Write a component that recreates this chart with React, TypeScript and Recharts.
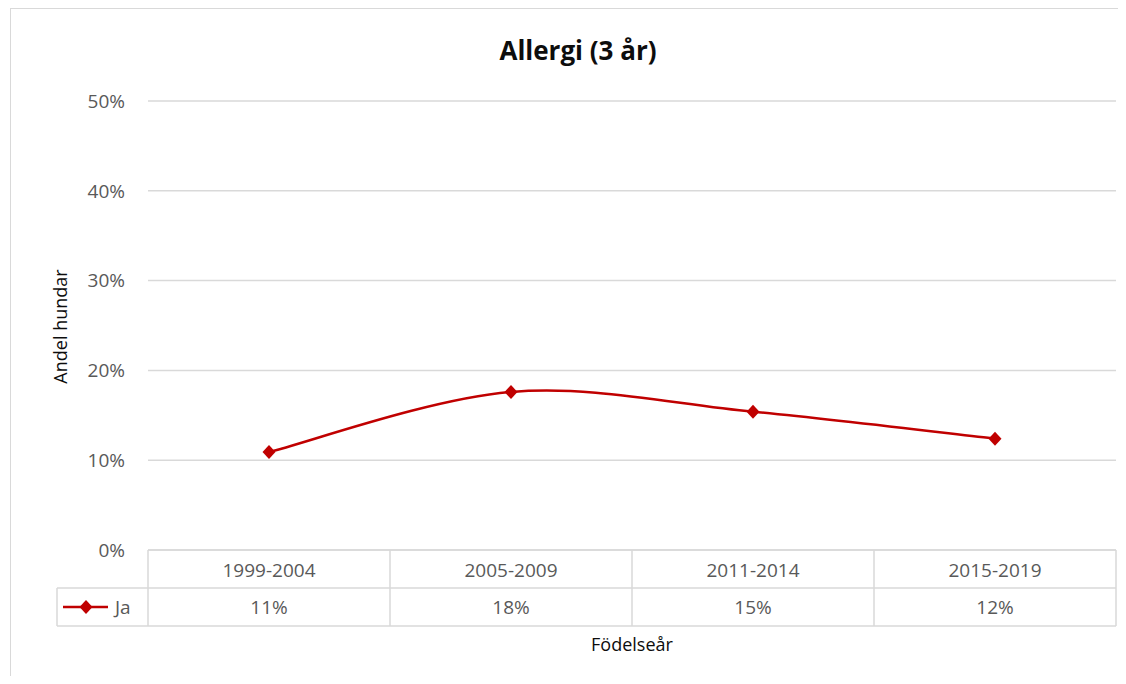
import React from 'react';
import { LineChart, Line, XAxis, YAxis, CartesianGrid } from 'recharts';

// ---- data ----
const categories = ['1999-2004', '2005-2009', '2011-2014', '2015-2019'];
const jaValues = [0.109, 0.176, 0.154, 0.124];
const yTicks = [0, 0.1, 0.2, 0.3, 0.4, 0.5];
const seriesName = 'Ja';
const chartTitle = 'Allergi (3 år)';
const yAxisTitle = 'Andel hundar';
const xAxisTitle = 'Födelseår';

const data = categories.map((c, i) => ({ cat: c, ja: jaValues[i] }));

// ---- layout constants ----
const W = 1118;
const H = 668;
const PLOT_TOP = 93;
const PLOT_LEFT = 140;
const RIGHT = 10;
const XAXIS_H = 126;
const PLOT_BOTTOM = H - XAXIS_H;
const ROW_H = 38;
const FONT = '"Open Sans", sans-serif';
const GRID = '#d9d9d9';
const RED = '#C00000';
const TEXT_GRAY = '#595959';
const TICK_FS = 19;

const pct = (v: number) => `${Math.round(v * 100)}%`;

// Excel-like smoothed line (Catmull-Rom style bezier)
const excelSmooth: any = (context: any) => {
  let pts: number[][] = [];
  return {
    areaStart() {},
    areaEnd() {},
    lineStart() {
      pts = [];
    },
    point(x: number, y: number) {
      pts.push([+x, +y]);
    },
    lineEnd() {
      const n = pts.length;
      if (!n) return;
      context.moveTo(pts[0][0], pts[0][1]);
      for (let i = 0; i < n - 1; i++) {
        const p0 = pts[i - 1] || pts[i];
        const p1 = pts[i];
        const p2 = pts[i + 1];
        const p3 = pts[i + 2] || pts[i + 1];
        context.bezierCurveTo(
          p1[0] + (p2[0] - p0[0]) / 6,
          p1[1] + (p2[1] - p0[1]) / 6,
          p2[0] - (p3[0] - p1[0]) / 6,
          p2[1] - (p3[1] - p1[1]) / 6,
          p2[0],
          p2[1]
        );
      }
    },
  };
};

const Diamond = (props: any) => {
  const { cx, cy } = props;
  if (cx == null || cy == null) return null;
  return <path d={`M${cx},${cy - 7}L${cx + 6.5},${cy}L${cx},${cy + 7}L${cx - 6.5},${cy}Z`} fill={RED} />;
};

const TableTick = (props: any) => {
  const { x, index, payload } = props;
  const bw = (W - PLOT_LEFT - RIGHT) / categories.length;
  const left = x - bw / 2;
  const right = x + bw / 2;
  const top = PLOT_BOTTOM;
  const mid = top + ROW_H;
  const bot = top + 2 * ROW_H;
  const sw = 1.5;
  const legLeft = 49;
  const legY = mid + ROW_H / 2;
  return (
    <g>
      <line x1={left} y1={top} x2={right} y2={top} stroke={GRID} strokeWidth={sw} />
      <line x1={left} y1={mid} x2={right} y2={mid} stroke={GRID} strokeWidth={sw} />
      <line x1={left} y1={bot} x2={right} y2={bot} stroke={GRID} strokeWidth={sw} />
      <line x1={left} y1={top} x2={left} y2={bot} stroke={GRID} strokeWidth={sw} />
      {index === categories.length - 1 && (
        <line x1={right} y1={top} x2={right} y2={bot} stroke={GRID} strokeWidth={sw} />
      )}
      <text x={x} y={top + ROW_H / 2 + 1} textAnchor="middle" dominantBaseline="central" fill={TEXT_GRAY} fontSize={TICK_FS} fontFamily={FONT}>
        {payload.value}
      </text>
      <text x={x} y={mid + ROW_H / 2} textAnchor="middle" dominantBaseline="central" fill={TEXT_GRAY} fontSize={TICK_FS} fontFamily={FONT}>
        {pct(jaValues[index])}
      </text>
      {index === 0 && (
        <g>
          <line x1={legLeft} y1={mid} x2={left} y2={mid} stroke={GRID} strokeWidth={sw} />
          <line x1={legLeft} y1={bot} x2={left} y2={bot} stroke={GRID} strokeWidth={sw} />
          <line x1={legLeft} y1={mid} x2={legLeft} y2={bot} stroke={GRID} strokeWidth={sw} />
          <line x1={55} y1={legY} x2={100} y2={legY} stroke={RED} strokeWidth={2.5} />
          <Diamond cx={78} cy={legY} />
          <text x={107} y={legY} dominantBaseline="central" fill={TEXT_GRAY} fontSize={TICK_FS} fontFamily={FONT}>
            {seriesName}
          </text>
        </g>
      )}
    </g>
  );
};

const YTitle = () => {
  const cx = 52;
  const cy = (PLOT_TOP + PLOT_BOTTOM) / 2 + 1;
  return (
    <text x={cx} y={cy} transform={`rotate(-90, ${cx}, ${cy})`} textAnchor="middle" dominantBaseline="central" fill="#0d0d0d" fontSize={18} fontFamily={FONT}>
      {yAxisTitle}
    </text>
  );
};

const XTitle = () => {
  const cx = (PLOT_LEFT + W - RIGHT) / 2;
  return (
    <text x={cx} y={636} textAnchor="middle" dominantBaseline="central" fill="#0d0d0d" fontSize={18} fontFamily={FONT}>
      {xAxisTitle}
    </text>
  );
};

export default function App() {
  return (
    <div style={{ position: 'relative', width: W, height: H, fontFamily: FONT }}>
      <div
        style={{
          position: 'absolute',
          left: 2,
          top: 0,
          width: W - 2,
          height: H,
          borderLeft: `1px solid ${GRID}`,
          borderTop: `1px solid ${GRID}`,
          boxSizing: 'border-box',
        }}
      />
      <div
        style={{
          position: 'absolute',
          left: 420,
          top: 24,
          width: 300,
          textAlign: 'center',
          fontSize: 26,
          fontWeight: 700,
          color: '#0d0d0d',
          fontFamily: FONT,
          lineHeight: '36px',
        }}
      >
        {chartTitle}
      </div>
      <div style={{ position: 'absolute', left: 0, top: 0 }}>
        <LineChart width={W} height={H} data={data} margin={{ top: PLOT_TOP, right: RIGHT, bottom: 0, left: 0 }}>
          <CartesianGrid horizontal vertical={false} stroke={GRID} strokeWidth={1.5} />
          <XAxis
            dataKey="cat"
            scale="band"
            height={XAXIS_H}
            axisLine={false}
            tickLine={false}
            tickSize={0}
            interval={0}
            tick={<TableTick />}
            label={{ content: () => <XTitle /> }}
          />
          <YAxis
            width={PLOT_LEFT}
            domain={[0, 0.5]}
            ticks={yTicks}
            tickFormatter={pct}
            axisLine={false}
            tickLine={false}
            tickSize={0}
            tickMargin={23}
            tick={{ fill: TEXT_GRAY, fontSize: TICK_FS, fontFamily: FONT }}
            label={{ content: () => <YTitle /> }}
          />
          <Line
            dataKey="ja"
            name={seriesName}
            type={excelSmooth}
            stroke={RED}
            strokeWidth={2.5}
            dot={<Diamond />}
            activeDot={false}
            isAnimationActive={false}
          />
        </LineChart>
      </div>
    </div>
  );
}
